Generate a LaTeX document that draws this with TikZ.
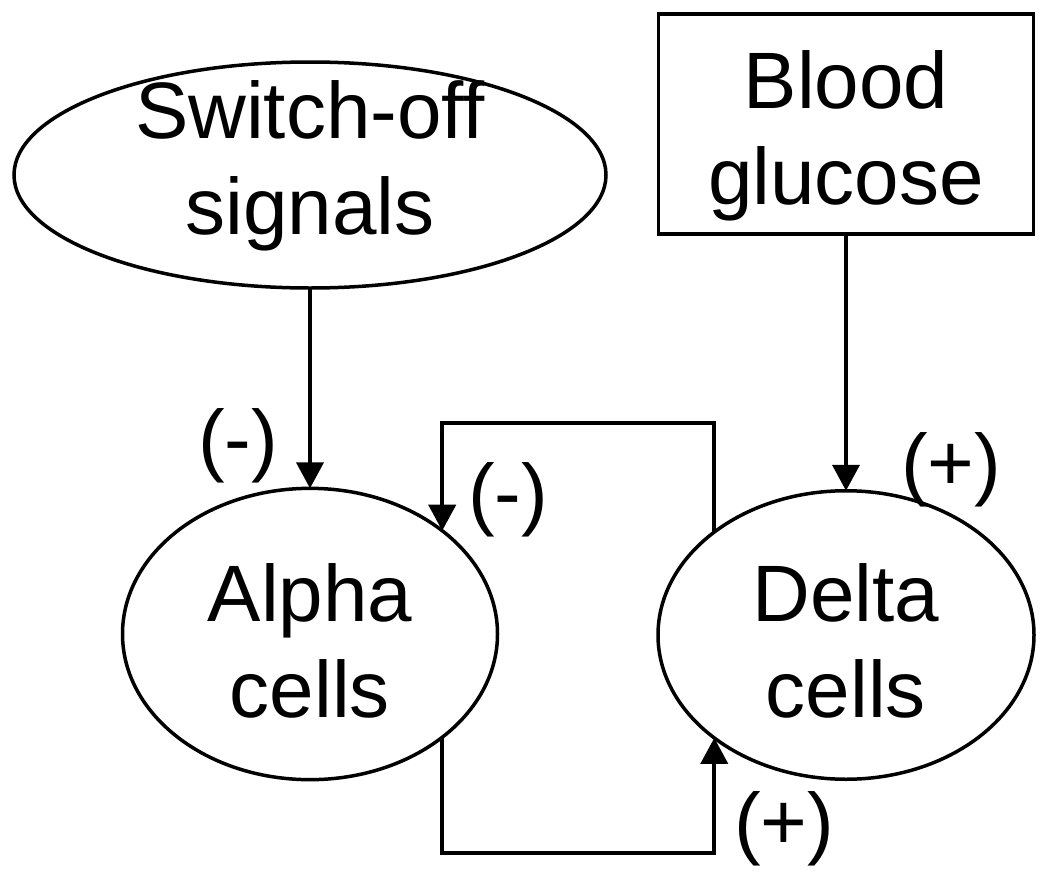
\documentclass[tikz,border=0pt]{standalone}
\usepackage{fontspec}
\setmainfont{Liberation Sans}
\usetikzlibrary{arrows.meta,shapes.geometric}
\tikzset{
  txt/.style={font=\fontsize{80}{96}\selectfont, align=center, inner sep=0pt, outer sep=0pt, text depth=20pt},
  oval/.style={txt, ellipse, draw, line width=3.5pt},
  sqbox/.style={txt, rectangle, draw, line width=3.5pt},
  conn/.style={line width=4pt, -{Triangle[length=26pt,width=27pt]}},
  sign/.style={font=\fontsize{80}{96}\selectfont, inner sep=0pt, anchor=base}
}
\begin{document}
\begin{tikzpicture}[x=1pt,y=-1pt]
\useasboundingbox (0,0) rectangle (1050,881);
\node[oval, minimum width=592pt, minimum height=226pt, text height=138pt] (sw) at (310,175) {Switch-off\\signals};
\node[sqbox, minimum width=375pt, minimum height=220pt, text height=180pt] (bg) at (846,124) {Blood\\glucose};
\node[oval, minimum width=375pt, minimum height=262pt, text height=186pt] (alpha) at (310,634) {Alpha\\cells};
\node[oval, minimum width=376pt, minimum height=264pt, text height=184pt] (delta) at (846,635) {Delta\\cells};
\coordinate (topy) at (0,423);
\coordinate (boty) at (0,853);
\draw[conn] (sw.south) -- (alpha.north);
\draw[conn] (bg.south) -- (delta.north);
\draw[conn] (delta.142) -- (delta.142 |- topy) -- (alpha.38 |- topy) -- (alpha.38);
\draw[conn] (alpha.-38) -- (alpha.-38 |- boty) -- (delta.218 |- boty) -- (delta.218);
\node[sign] (l1) at (238,466) {(-)};
\node[sign] (l2) at (508,520) {(-)};
\node[sign] (l3) at (951,490) {(+)};
\node[sign] (l4) at (784,849) {(+)};
\end{tikzpicture}
\end{document}
